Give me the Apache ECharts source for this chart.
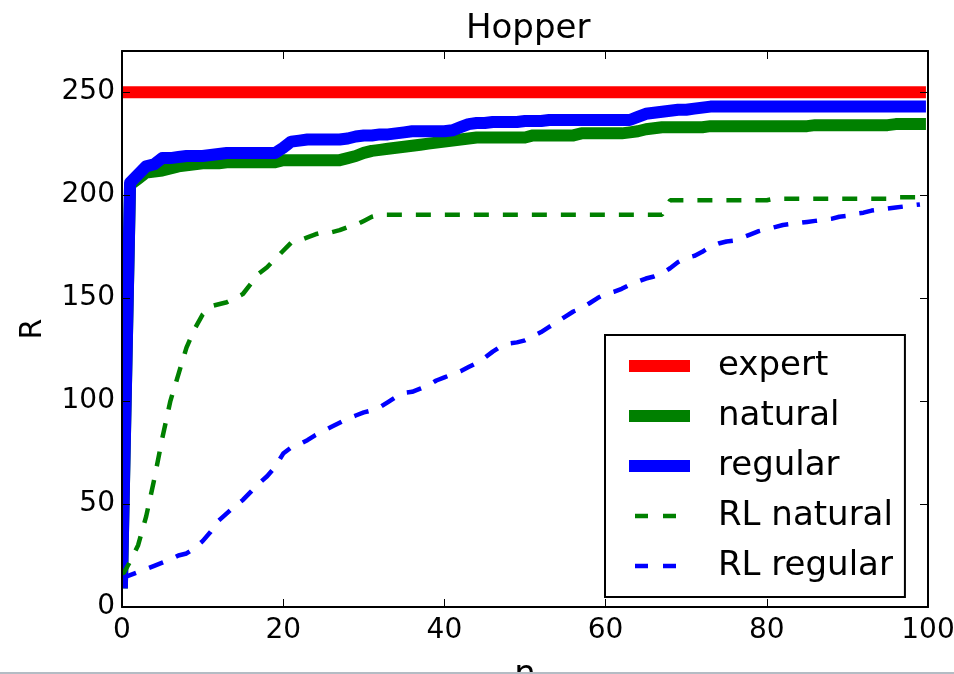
<!DOCTYPE html>
<html>
<head>
<meta charset="utf-8">
<script src="https://cdn.jsdelivr.net/npm/echarts@6/dist/echarts.min.js"></script>
<style>
html,body{margin:0;padding:0;background:#fff;}
#main{width:954px;height:674px;}
</style>
</head>
<body>
<div id="main"></div>
<script>
// ---- data ----
var nValues = [0,1,2,3,4,5,6,7,8,9,10,11,12,13,14,15,16,17,18,19,20,21,22,23,24,25,26,27,28,29,30,31,32,33,34,35,36,37,38,39,40,41,42,43,44,45,46,47,48,49,50,51,52,53,54,55,56,57,58,59,60,61,62,63,64,65,66,67,68,69,70,71,72,73,74,75,76,77,78,79,80,81,82,83,84,85,86,87,88,89,90,91,92,93,94,95,96,97,98,99];

var expertN = [0, 99];
var expertR = [250, 250];

var naturalR = [12,205,208,211,211.5,212,213,214,214.5,215,215.5,215.5,215.5,216,216,216,216,216,216,216,217,217,217,217,217,217,217,217,218,219,220.5,221.5,222,222.5,223,223.5,224,224.5,225,225.5,226,226.5,227,227.5,228,228,228,228,228,228,228,229,229,229,229,229,229,230,230,230,230,230,230,230.5,231,232,232.5,233,233,233,233,233,233,233.5,233.5,233.5,233.5,233.5,233.5,233.5,233.5,233.5,233.5,233.5,233.5,233.5,234,234,234,234,234,234,234,234,234,234,234.5,234.5,234.5,234.5];

var regularR = [12,206,210,214,215,218,218,218.5,219,219,219,219.5,220,220.5,220.5,220.5,220.5,220.5,220.5,220.5,223,226,226.5,227,227,227,227,227,227.5,228.5,229,229,229.5,229.5,230,230.5,231,231,231,231,231,231.5,233,234.5,235,235,235.5,235.5,235.5,235.5,236,236,236,236.5,236.5,236.5,236.5,236.5,236.5,236.5,236.5,236.5,236.5,236.5,238,239.5,240,240.5,241,241.5,241.5,242,242.5,243,243,243,243,243,243,243,243,243,243,243,243,243,243,243,243,243,243,243,243,243,243,243,243,243,243,243];

var rlNaturalR = [15,22,30,44,62,82,100,113,126,135,142,146,147,148,150,152,157,162,165,169,173,177,178,179.5,181,182,182,183,184.5,185.5,187.5,189.5,190.5,190.5,190.5,190.5,190.5,190.5,190.5,190.5,190.5,190.5,190.5,190.5,190.5,190.5,190.5,190.5,190.5,190.5,190.5,190.5,190.5,190.5,190.5,190.5,190.5,190.5,190.5,190.5,190.5,190.5,190.5,190.5,190.5,190.5,190.5,190.5,197.5,197.5,197.5,197.5,197.5,197.5,197.5,197.5,197.5,197.5,197.5,197.5,197.5,198.3,198.3,198.3,198.3,198.3,198.3,198.3,198.3,198.3,198.3,198.3,198.3,198.3,198.3,198.3,199,199,199,199];

var rlRegularR = [14,15.5,17,18.5,20,21.5,23,25,26,28.5,32,36.5,42,45.5,49,52,56,60,63.5,68,74.5,77.5,79,81,83.5,85.5,87.5,89.5,91.5,93,94.5,95.5,97,99.5,102,104,104.5,106,107.5,110,111.5,113,114.5,116.5,118.5,121,124,126.5,128,128.5,129.5,131.5,133.5,136,138.5,141,143.5,145,147.5,150,152,153,154.5,156.5,158,159.5,160.5,162,164.5,167.5,169.5,170.5,172.5,175,176.5,177.5,178,179.5,181,182.5,183.5,184.5,185.5,186,186.5,187,187.5,188,188.5,189.5,190,191,191.5,192.5,193,193.5,194,194.5,195,195.5];

var xTicks = {min: 0, max: 100, interval: 20};
var yTicks = {min: 0, max: 270, interval: 50};
var seriesNames = ['expert', 'natural', 'regular', 'RL natural', 'RL regular'];

function pairs(xs, ys) { return xs.map(function (x, i) { return [x, ys[i]]; }); }

var FONT = 'DejaVu Sans';
var chart = echarts.init(document.getElementById('main'), null, {renderer: 'canvas'});

var baseAxisLine = {show: true, onZero: false, lineStyle: {color: '#000', width: 2}};
var baseTick = {show: true, inside: true, length: 8, lineStyle: {color: '#000', width: 1}};
var hideSymbol = {opacity: 0};

var option = {
  backgroundColor: '#fff',
  animation: false,
  title: {
    text: 'Hopper',
    left: 461,
    top: 7,
    textStyle: {fontFamily: FONT, fontSize: 34, fontWeight: 'normal', color: '#000'}
  },
  grid: {left: 122, right: 26, top: 51, bottom: 67, containLabel: false, outerBoundsMode: 'none'},
  legend: {
    orient: 'vertical',
    left: 605,
    top: 335,
    padding: [14, 12, 14, 24],
    itemGap: 16,
    itemWidth: 49,
    itemHeight: 12,
    borderColor: '#000',
    borderWidth: 2,
    borderRadius: 0,
    backgroundColor: '#fff',
    textStyle: {fontFamily: FONT, fontSize: 34, color: '#000', lineHeight: 34, padding: [0, 0, 0, 29]},
    data: [
      {name: seriesNames[0], itemStyle: hideSymbol, lineStyle: {width: 12, cap: 'square'}},
      {name: seriesNames[1], itemStyle: hideSymbol, lineStyle: {width: 12, cap: 'square'}},
      {name: seriesNames[2], itemStyle: hideSymbol, lineStyle: {width: 12, cap: 'square'}},
      {name: seriesNames[3], itemStyle: hideSymbol, lineStyle: {width: 4.5, type: [13, 15]}},
      {name: seriesNames[4], itemStyle: hideSymbol, lineStyle: {width: 4.5, type: [13, 15]}}
    ]
  },
  xAxis: [{
    type: 'value', position: 'bottom', z: 20,
    min: xTicks.min, max: xTicks.max, interval: xTicks.interval,
    axisLine: baseAxisLine, axisTick: baseTick,
    axisLabel: {fontFamily: FONT, fontSize: 28, color: '#000', margin: 10},
    splitLine: {show: false},
    name: 'n', nameLocation: 'middle', nameGap: 51,
    nameTextStyle: {fontFamily: FONT, fontSize: 34, color: '#000'}
  }, {
    type: 'value', position: 'top', z: 20,
    min: xTicks.min, max: xTicks.max, interval: xTicks.interval,
    axisLine: baseAxisLine, axisTick: baseTick,
    axisLabel: {show: false}, splitLine: {show: false}
  }],
  yAxis: [{
    type: 'value', position: 'left', z: 20,
    min: yTicks.min, max: yTicks.max, interval: yTicks.interval,
    axisLine: baseAxisLine, axisTick: baseTick,
    axisLabel: {fontFamily: FONT, fontSize: 28, color: '#000', margin: 7, showMaxLabel: false,
      formatter: function (v) { return v % 50 === 0 ? String(v) : ''; }},
    splitLine: {show: false},
    name: 'R', nameLocation: 'middle', nameGap: 74, nameRotate: 90,
    nameTextStyle: {fontFamily: FONT, fontSize: 30, color: '#000'}
  }, {
    type: 'value', position: 'right', z: 20,
    min: yTicks.min, max: yTicks.max, interval: yTicks.interval,
    axisLine: baseAxisLine, axisTick: baseTick,
    axisLabel: {show: false}, splitLine: {show: false}
  }],
  series: [
    {name: seriesNames[0], type: 'line', data: pairs(expertN, expertR), showSymbol: false, symbol: 'none', color: '#ff0000',
      lineStyle: {width: 12, color: '#ff0000', cap: 'square'}, z: 2},
    {name: seriesNames[1], type: 'line', data: pairs(nValues, naturalR), showSymbol: false, symbol: 'none', color: '#008000',
      lineStyle: {width: 12, color: '#008000', cap: 'square', join: 'round'}, z: 3},
    {name: seriesNames[2], type: 'line', data: pairs(nValues, regularR), showSymbol: false, symbol: 'none', color: '#0000ff',
      lineStyle: {width: 12, color: '#0000ff', cap: 'square', join: 'round'}, z: 4},
    {name: seriesNames[3], type: 'line', data: pairs(nValues, rlNaturalR), showSymbol: false, symbol: 'none', color: '#008000',
      lineStyle: {width: 4.5, color: '#008000', type: [15, 14]}, z: 5},
    {name: seriesNames[4], type: 'line', data: pairs(nValues, rlRegularR), showSymbol: false, symbol: 'none', color: '#0000ff',
      lineStyle: {width: 4.5, color: '#0000ff', type: [15, 14]}, z: 6}
  ],
  graphic: [{
    // white margin left of the plot, so thick lines are clipped at the axes box like the original
    type: 'rect', z: 10, silent: true,
    shape: {x: 0, y: 0, width: 121, height: 674},
    style: {fill: '#fff'}
  }, {
    type: 'rect', z: 100, silent: true,
    shape: {x: 0, y: 672, width: 954, height: 2},
    style: {fill: '#b4bcc4'}
  }]
};
chart.setOption(option);
</script>
</body>
</html>
